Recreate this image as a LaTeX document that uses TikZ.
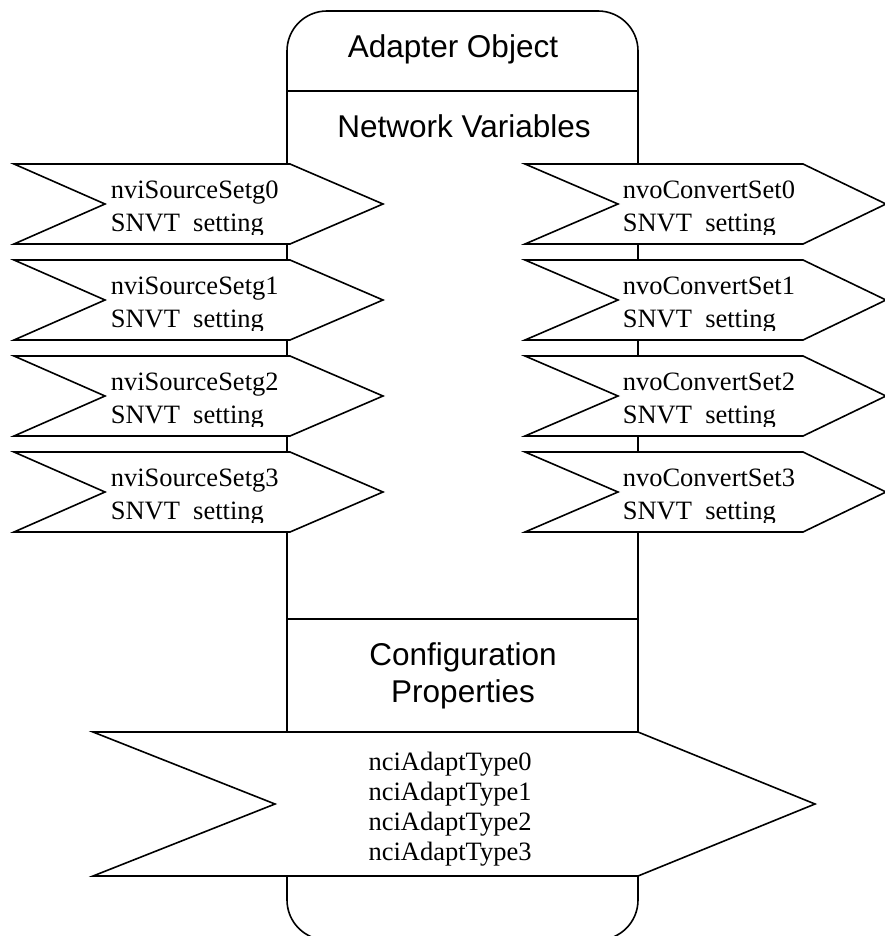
\documentclass[tikz,border=0pt]{standalone}
\usepackage{fontspec}
\setmainfont{Liberation Serif}
\newfontfamily\arialf{Liberation Sans}
\begin{document}
\begin{tikzpicture}[x=1pt,y=-1pt,line width=1.6pt,
  arrowshape/.style={draw=black,fill=white,line join=miter},
  sertext/.style={inner sep=0pt,font=\fontsize{26.5}{26.5}\selectfont},
  santext/.style={inner sep=0pt,font=\arialf\fontsize{31.5}{31.5}\selectfont}]
\useasboundingbox (0,0) rectangle (885,936);
\fill[white] (0,0) rectangle (885,936);
\clip (0,0) rectangle (885,936);
% main object body
\draw[rounded corners=40pt] (287,11) rectangle (638,940);
\coordinate (d1l) at (287,91);
\coordinate (d1r) at (638,91);
\coordinate (d2l) at (287,619);
\coordinate (d2r) at (638,619);
\draw (d1l) -- (d1r);
\draw (d2l) -- (d2r);
\node[santext] (title) at (453,49) {Adapter Object};
\node[santext] (nv) at (464,126) {Network Variables};
\node[santext] (cp1) at (463,657) {Configuration};
\node[santext] (cp2) at (463,694) {Properties};
% input and output network variables
\foreach \i in {0,...,3} {
  \pgfmathsetmacro\t{164+96*\i}
  \draw[arrowshape] (14,\t) -- (290,\t) -- (383,\t+40) -- (290,\t+80) -- (14,\t+80) -- (105,\t+40) -- cycle;
  \draw[arrowshape] (525,\t) -- (803,\t) -- (886,\t+40) -- (803,\t+80) -- (525,\t+80) -- (618,\t+40) -- cycle;
  \begin{scope}
    \clip (0,\t) rectangle (885,\t+70);
    \node[sertext,anchor=base west] (nvi\i) at (110,\t+34) {nviSourceSetg\i};
    \node[sertext,anchor=base west] (nvit\i) at (110,\t+67) {SNVT\ \ setting};
    \node[sertext,anchor=base west] (nvo\i) at (622,\t+34) {nvoConvertSet\i};
    \node[sertext,anchor=base west] (nvot\i) at (622,\t+67) {SNVT\ \ setting};
  \end{scope}
}
% configuration properties
\draw[arrowshape] (93,732) -- (638,732) -- (815,804) -- (638,876) -- (93,876) -- (275,804) -- cycle;
\foreach \i in {0,...,3} {
  \node[sertext,anchor=base] (nci\i) at (450,770+30*\i) {nciAdaptType\i};
}
\end{tikzpicture}
\end{document}
